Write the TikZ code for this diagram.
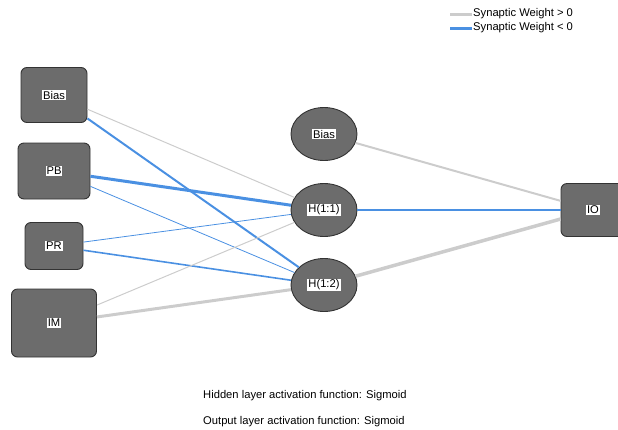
\documentclass[tikz,border=0pt]{standalone}
\usepackage{fontspec}
\setmainfont{Liberation Sans}
\usetikzlibrary{shapes.geometric, positioning}
\definecolor{nodegray}{RGB}{108,108,108}
\definecolor{poscol}{RGB}{204,204,204}
\definecolor{negcol}{RGB}{74,144,226}
\newcommand{\wbox}[1]{{\fboxsep=1pt\colorbox{white}{#1}}}

\begin{document}
\begin{tikzpicture}[x=1pt, y=-1pt,
    every node/.style={font=\fontsize{11.2}{13}\selectfont},
    inbox/.style={draw=black!80, line width=0.9pt, fill=nodegray, rounded corners=6pt, inner sep=0pt},
    neuron/.style={draw=black!80, line width=0.9pt, fill=nodegray, ellipse, inner sep=0pt,
      minimum width=66pt, minimum height=53pt},
    posweight/.style={draw=poscol},
    negweight/.style={draw=negcol}]
   \useasboundingbox (0, 0) rectangle (618, 429);
   \clip (0, 0) rectangle (618, 429);
   % input layer
   \node[inbox, minimum width=66pt, minimum height=55pt] (Bias) at (54, 95) {\wbox{Bias}};
   \node[inbox, minimum width=72pt, minimum height=56pt] (PB) at (54, 171) {\wbox{PB}};
   \node[inbox, minimum width=58pt, minimum height=47pt] (PR) at (54, 246) {\wbox{PR}};
   \node[inbox, minimum width=85pt, minimum height=68pt] (IM) at (54, 323) {\wbox{IM}};
   % hidden layer
   \node[neuron] (hBias) at (324, 134) {\wbox{Bias}};
   \node[neuron] (H1) at (324, 210) {\wbox{H(1:1)}};
   \node[neuron] (H2) at (324, 285) {\wbox{H(1:2)}};
   % output layer
   \node[inbox, minimum width=64pt, minimum height=53pt] (IO) at (593, 210) {\wbox{IO}};
   % weights
   \draw[posweight, line width=1pt] (Bias) -- (H1);
   \draw[negweight, line width=2pt] (Bias) -- (H2);
   \draw[negweight, line width=3pt] (PB) -- (H1);
   \draw[negweight, line width=0.8pt] (PB) -- (H2);
   \draw[negweight, line width=0.8pt] (PR) -- (H1);
   \draw[negweight, line width=1.6pt] (PR) -- (H2);
   \draw[posweight, line width=1pt] (IM) -- (H1);
   \draw[posweight, line width=3pt] (IM) -- (H2);
   \draw[posweight, line width=2pt] (hBias) -- (IO);
   \draw[negweight, line width=2.5pt] (H1) -- (IO);
   \draw[posweight, line width=3.5pt] (H2) -- (IO);
   % legend
   \coordinate (gA) at (450, 14);
   \coordinate (gB) at (472, 14);
   \coordinate (bA) at (450, 28);
   \coordinate (bB) at (472, 28);
   \draw[posweight, line width=3pt] (gA) -- (gB);
   \draw[negweight, line width=3pt] (bA) -- (bB);
   \node[right, inner sep=1pt] (_) at (gB) {Synaptic Weight > 0};
   \node[right, inner sep=1pt] (_) at (bB) {Synaptic Weight < 0};
   % activation notes
   \node[right, inner sep=0pt] (hidnote) at (203, 396) {Hidden layer activation function: Sigmoid};
   \node[right, inner sep=0pt] (outnote) at (203, 422) {Output layer activation function: Sigmoid};
\end{tikzpicture}
\end{document}
